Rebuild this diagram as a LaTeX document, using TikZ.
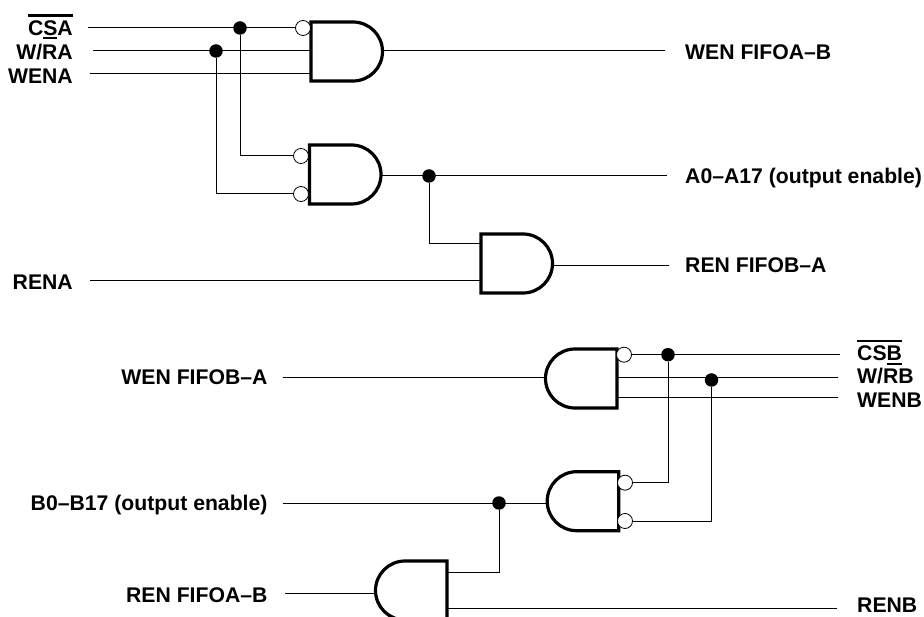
\documentclass[tikz,border=0pt]{standalone}
\usepackage{fontspec}
\setmainfont{Liberation Sans}
\newcommand{\topbar}[1]{\sbox0{#1}\rlap{\rule[19pt]{\wd0}{2.2pt}}\box0}
\newcommand{\lowbar}[1]{\sbox0{#1}\rlap{\rule[-3.8pt]{\wd0}{2.2pt}}\box0}
\tikzset{
	wire/.style={line width=1pt},
	gate/.style={line width=3.2pt,line join=miter},
	bubble/.style={circle,draw,line width=0.8pt,fill=white,inner sep=0pt,minimum size=15pt},
	dot/.style={circle,fill=black,inner sep=0pt,minimum size=13.5pt},
	pinlabel/.style={inner sep=0pt,font=\fontsize{21.2}{21.2}\selectfont\bfseries},
	gateright/.pic={
		\draw[gate] (0,0) -- (42,0) arc[start angle=90,end angle=-90,radius=29.5pt] -- (0,59) -- cycle;
		\coordinate (-in) at (0,29.5);
		\coordinate (-out) at (71.5,29.5);
	},
	gateleft/.pic={
		\draw[gate] (0,0) -- (-42,0) arc[start angle=90,end angle=270,radius=29.5pt] -- (0,59) -- cycle;
		\coordinate (-in) at (-71.5,29.5);
		\coordinate (-out) at (0,29.5);
	}
}

\begin{document}
\begin{tikzpicture}[x=1pt,y=-1pt]
		\useasboundingbox (0,0) rectangle (924,617);
		% upper half
		\pic (gateA) at (311,22) {gateright};
		\pic (gateB) at (309.5,145) {gateright};
		\pic (gateC) at (481,234) {gateright};
		\node[bubble] (bubA) at (303,28) {};
		\node[bubble] (bubB) at (301,156) {};
		\node[bubble] (bubC) at (301,194) {};
		\node[dot] (dotA) at (240,28) {};
		\node[dot] (dotB) at (216,51) {};
		\node[dot] (dotC) at (429,176) {};
		\node[pinlabel,anchor=base east] (csa) at (73,35.7) {\topbar{C\lowbar{S}A}};
		\node[pinlabel,anchor=base east] (wra) at (73,59.3) {W/RA};
		\node[pinlabel,anchor=base east] (wena) at (73,84) {WENA};
		\node[pinlabel,anchor=base east] (rena) at (73,290) {RENA};
		\node[pinlabel,anchor=base west] (wenab) at (685,60) {WEN FIFOA--B};
		\node[pinlabel,anchor=base west] (aoe) at (685,184) {A0--A17 (output enable)};
		\node[pinlabel,anchor=base west] (renba) at (685,273) {REN FIFOB--A};
		\coordinate (csaw) at (88,28);
		\coordinate (wraw) at (93,51);
		\coordinate (wenaw) at (90,74);
		\coordinate (renaw) at (90,281);
		\coordinate (wenabw) at (665,51);
		\coordinate (aoew) at (667,176);
		\coordinate (renbaw) at (669,265.7);
		\draw[wire] (csaw) -- (bubA);
		\draw[wire] (wraw) -- (wraw -| gateA-in);
		\draw[wire] (wenaw) -- (wenaw -| gateA-in);
		\draw[wire] (dotA) |- (bubB);
		\draw[wire] (dotB) |- (bubC);
		\draw[wire] (wenabw -| gateA-out) -- (wenabw);
		\draw[wire] (aoew -| gateB-out) -- (aoew);
		\draw[wire] (dotC) |- (gateC-in |- 0,244);
		\draw[wire] (renaw) -- (renaw -| gateC-in);
		\draw[wire] (renbaw -| gateC-out) -- (renbaw);
		% lower half
		\pic (gateD) at (617,349) {gateleft};
		\pic (gateE) at (618.7,471.7) {gateleft};
		\begin{scope}
		\clip (0,0) rectangle (924,617);
		\pic (gateF) at (447,561) {gateleft};
		\end{scope}
		\node[bubble] (bubD) at (624,354.7) {};
		\node[bubble] (bubE) at (625,482.7) {};
		\node[bubble] (bubF) at (625,521) {};
		\node[dot] (dotD) at (668,354.7) {};
		\node[dot] (dotE) at (711.5,380) {};
		\node[dot] (dotF) at (499,503) {};
		\node[pinlabel,anchor=base west] (csb) at (857,361) {\topbar{CS\lowbar{B}}};
		\node[pinlabel,anchor=base west] (wrb) at (857,384) {W/RB};
		\node[pinlabel,anchor=base west] (wenb) at (857,407.7) {WENB};
		\node[pinlabel,anchor=base west] (renb) at (857,612.4) {RENB};
		\node[pinlabel,anchor=base east] (wenba) at (267.7,385) {WEN FIFOB--A};
		\node[pinlabel,anchor=base east] (boe) at (267.7,511) {B0--B17 (output enable)};
		\node[pinlabel,anchor=base east] (renab) at (267.7,602.7) {REN FIFOA--B};
		\coordinate (csbw) at (840,354.7);
		\coordinate (wrbw) at (838,377.7);
		\coordinate (wenbw) at (838,398);
		\coordinate (renbw) at (837,608);
		\coordinate (wenbaw) at (283,377.7);
		\coordinate (boew) at (283,503);
		\coordinate (renabw) at (285,593);
		\draw[wire] (bubD) -- (csbw);
		\draw[wire] (wrbw -| gateD-out) -- (wrbw);
		\draw[wire] (wenbw -| gateD-out) -- (wenbw);
		\draw[wire] (dotD) |- (bubE);
		\draw[wire] (dotE) |- (bubF);
		\draw[wire] (wenbaw) -- (wenbaw -| gateD-in);
		\draw[wire] (boew) -- (boew -| gateE-in);
		\draw[wire] (dotF) |- (gateF-out |- 0,572);
		\draw[wire] (renabw) -- (renabw -| gateF-in);
		\draw[wire] (renbw -| gateF-out) -- (renbw);
\end{tikzpicture}
\end{document}
